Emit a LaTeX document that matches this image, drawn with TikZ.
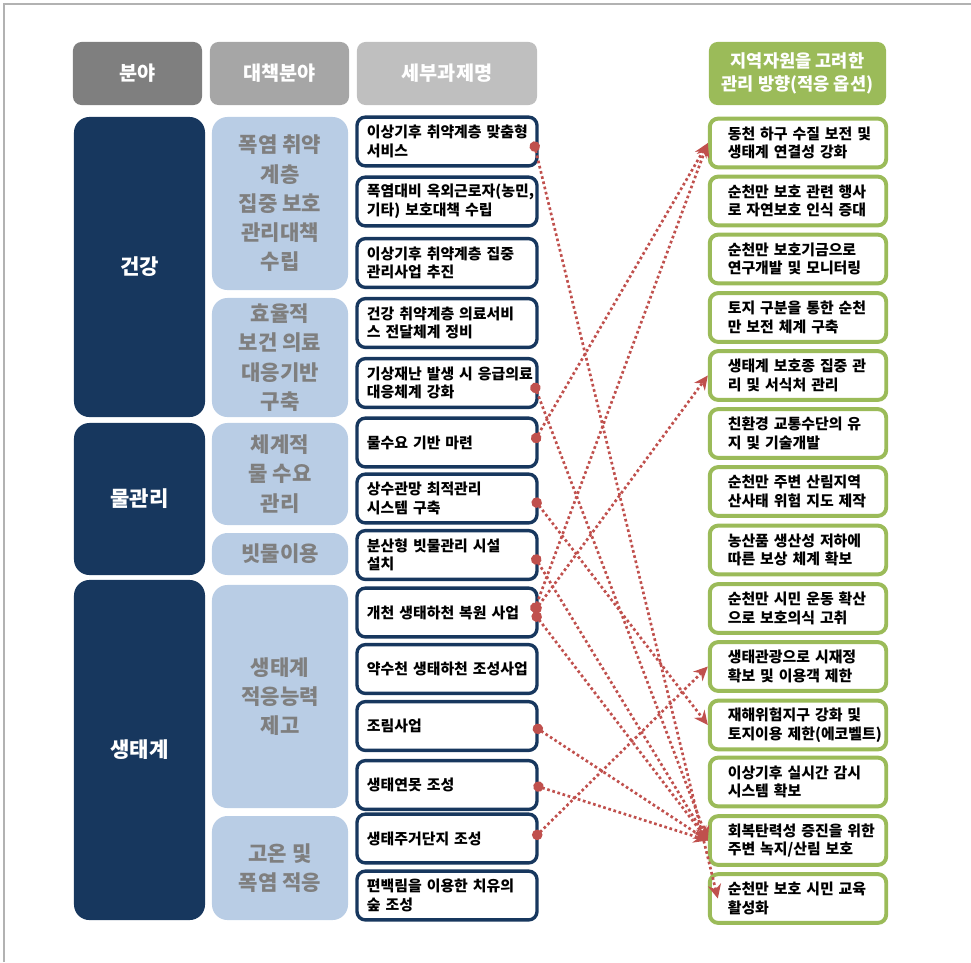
\documentclass[tikz,border=0pt]{standalone}
\usepackage{fontspec}
\setmainfont{Noto Sans CJK KR}
\usepackage{tikz}
\usetikzlibrary{positioning,arrows.meta}

\definecolor{navy}{HTML}{17375E}
\definecolor{lblue}{HTML}{B9CDE5}
\definecolor{txtgray}{HTML}{7F7F7F}
\definecolor{optgreen}{HTML}{9BBB59}
\definecolor{linkred}{HTML}{C0504D}
\definecolor{hdone}{HTML}{7F7F7F}
\definecolor{hdtwo}{HTML}{A6A6A6}
\definecolor{hdthree}{HTML}{BFBFBF}

\begin{document}
\begin{tikzpicture}[x=0.025cm, y=-0.025cm,
    head/.style={rounded corners=6pt, minimum height=1.575cm, inner sep=2pt,
      text=white, align=center, font=\bfseries\fontsize{14}{17}\selectfont},
    field/.style={fill=navy, rounded corners=11pt, minimum width=3.275cm,
      text=white, font=\bfseries\fontsize{15}{18}\selectfont},
    measure/.style={fill=lblue, rounded corners=11pt, minimum width=3.4cm,
      text=txtgray, align=center, font=\bfseries\fontsize{15}{20.8}\selectfont},
    task/.style={draw=navy, line width=2.4pt, fill=white, rounded corners=6pt,
      text width=4cm, inner xsep=0.25cm, minimum height=1.22cm, align=left,
      font=\bfseries\fontsize{10.6}{13.2}\selectfont},
    option/.style={draw=optgreen, line width=2.8pt, fill=white, rounded corners=6pt,
      text width=3.85cm, inner xsep=0.28cm, minimum height=1.22cm, align=left,
      execute at begin node={\leftskip=0.17cm},
      font=\bfseries\fontsize{10.6}{13.2}\selectfont},
    link/.style={linkred, line width=1.9pt, dash pattern=on 1.9pt off 1.9pt,
      {Circle[length=2.6mm]}-{Stealth[length=3.5mm, width=3.3mm]}}]
  \useasboundingbox (0,0) rectangle (971,962);
  \draw[gray!60, line width=0.8pt] (4,962) -- (4,4) -- (971,4);

  \node[head, fill=hdone, minimum width=3.225cm] (h1) at (137.5,73.5) {분야};
  \node[head, fill=hdtwo, minimum width=3.475cm] (h2) at (279.5,73.5) {대책분야};
  \node[head, fill=hdthree, minimum width=4.5cm] (h3) at (447,73.5) {세부과제명};
  \node[head, fill=optgreen, minimum width=4.425cm,
        font=\bfseries\fontsize{12.5}{16}\selectfont]
    (h4) at (797.5,73.5) {지역자원을 고려한\\관리 방향(적응 옵션)};

  \node[field, minimum height=7.5cm] (f1) at (139.5,267) {건강};
  \node[field, minimum height=3.8cm] (f2) at (139.5,499) {물관리};
  \node[field, minimum height=8.5cm] (f3) at (139.5,750) {생태계};

  \node[measure, minimum height=4.325cm] (c1) at (280,203.5)
    {폭염 취약\\계층\\집중 보호\\관리대책\\수립};
  \node[measure, minimum height=2.975cm] (c2) at (280,357.5)
    {효율적\\보건 의료\\대응기반\\구축};
  \node[measure, minimum height=2.55cm] (c3) at (280,474) {체계적\\물 수요\\관리};
  \node[measure, minimum height=1.05cm] (c4) at (280,554) {빗물이용};
  \node[measure, minimum height=5.575cm] (c5) at (280,696.5)
    {생태계\\적응능력\\제고};
  \node[measure, minimum height=2.6cm] (c6) at (280,868) {고온 및\\폭염 적응};

  \node[task] (m1) at (447,141.5) {이상기후~취약계층~맞춤형\\서비스};
  \node[task] (m2) at (447,201.5) {폭염대비~옥외근로자(농민,\\기타) 보호대책 수립};
  \node[task] (m3) at (447,263) {이상기후 취약계층 집중\\관리사업 추진};
  \node[task] (m4) at (447,323) {건강~취약계층~의료서비\\스 전달체계 정비};
  \node[task] (m5) at (447,383) {기상재난~발생~시~응급의료\\대응체계 강화};
  \node[task] (m6) at (447,442.5) {물수요 기반 마련};
  \node[task] (m7) at (447,498.5) {상수관망 최적관리\\시스템 구축};
  \node[task] (m8) at (447,555) {분산형 빗물관리 시설\\설치};
  \node[task] (m9) at (447,612.5) {개천~생태하천~복원~사업};
  \node[task] (m10) at (447,669) {약수천~생태하천~조성사업};
  \node[task] (m11) at (447,726) {조림사업};
  \node[task] (m12) at (447,785) {생태연못 조성};
  \node[task] (m13) at (447,838.5) {생태주거단지 조성};
  \node[task] (m14) at (447,895.5) {편백림을~이용한~치유의\\숲 조성};

  \node[option] (r1) at (798,143) {동천~하구~수질~보전~및\\생태계 연결성 강화};
  \node[option] (r2) at (798,201) {순천만~보호~관련~행사\\로 자연보호 인식 증대};
  \node[option] (r3) at (798,259) {순천만 보호기금으로\\연구개발 및 모니터링};
  \node[option] (r4) at (798,317.5) {토지~구분을~통한~순천\\만 보전 체계 구축};
  \node[option] (r5) at (798,375.5) {생태계~보호종~집중~관\\리 및 서식처 관리};
  \node[option] (r6) at (798,433.5) {친환경 교통수단의 유\\지 및 기술개발};
  \node[option] (r7) at (798,491.5) {순천만 주변 산림지역\\산사태~위험~지도~제작};
  \node[option] (r8) at (798,550) {농산품 생산성 저하에\\따른 보상 체계 확보};
  \node[option] (r9) at (798,608.5) {순천만~시민~운동~확산\\으로 보호의식 고취};
  \node[option] (r10) at (798,666.5) {생태관광으로 시재정\\확보~및~이용객~제한};
  \node[option] (r11) at (798,725) {재해위험지구 강화 및\\토지이용~제한(에코벨트)};
  \node[option] (r12) at (798,782) {이상기후 실시간 감시\\시스템 확보};
  \node[option] (r13) at (798,840.5) {회복탄력성~증진을~위한\\주변 녹지/산림 보호};
  \node[option] (r14) at (798,898.5) {순천만~보호~시민~교육\\활성화};

  \draw[link] ([xshift=-0.13cm]m1.east) -- ([xshift=0.25cm]r14.west);
  \draw[link] ([xshift=-0.13cm]m5.east) -- (r13.west);
  \draw[link] ([xshift=-0.13cm]m6.east) -- (r1.west);
  \draw[link] ([xshift=-0.13cm]m7.east) -- (r11.west);
  \draw[link] ([xshift=-0.13cm]m8.east) -- (r13.west);
  \draw[link] ([xshift=-0.13cm]m9.east) -- (r1.west);
  \draw[link] ([xshift=-0.13cm]m9.east) -- (r5.west);
  \draw[link] ([xshift=-0.13cm]m9.east) -- (r13.west);
  \draw[link] ([xshift=-0.13cm]m11.east) -- (r13.west);
  \draw[link] ([xshift=-0.13cm]m12.east) -- (r13.west);
  \draw[link] ([xshift=-0.13cm]m13.east) -- (r10.west);
\end{tikzpicture}
\end{document}
